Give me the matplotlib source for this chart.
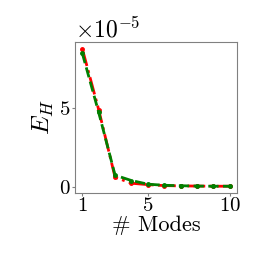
import matplotlib
matplotlib.use("Agg")
import matplotlib.pyplot as plt

plt.rcParams['font.family'] = 'serif'
plt.rcParams['font.serif'] = ['cmr10']
plt.rcParams['mathtext.fontset'] = 'cm'
plt.rcParams['axes.formatter.use_mathtext'] = True

modes = [1, 2, 3, 4, 5, 6, 7, 8, 9, 10]
err_red = [8.73e-5, 4.87e-5, 0.59e-5, 0.21e-5, 0.12e-5, 0.06e-5, 0.04e-5, 0.03e-5, 0.02e-5, 0.02e-5]
err_green = [8.45e-5, 4.7e-5, 0.72e-5, 0.38e-5, 0.15e-5, 0.08e-5, 0.05e-5, 0.03e-5, 0.02e-5, 0.02e-5]

fig = plt.figure(figsize=(2.62, 2.62), dpi=100)
ax = fig.add_axes([0.286, 0.263, 0.619, 0.577])

ax.plot(modes, err_red, color='red', linestyle='-.', marker='o', markersize=2.5, linewidth=2)
ax.plot(modes, err_green, color='green', linestyle='--', marker='o', markersize=2.5, linewidth=2)

ax.set_xticks([1, 5, 10])
ax.set_yticks([0, 5e-5])
ax.ticklabel_format(axis='y', style='sci', scilimits=(0, 0))
ax.tick_params(labelsize=15, length=2, pad=1, color='gray')
ax.yaxis.get_offset_text().set_fontsize(17)
ax.set_xlabel('# Modes', fontsize=16, labelpad=0)
ax.set_ylabel('$E_H$', fontsize=18, labelpad=2)
for s in ax.spines.values():
    s.set_color('gray')

fig.savefig('out.png', dpi=100)
